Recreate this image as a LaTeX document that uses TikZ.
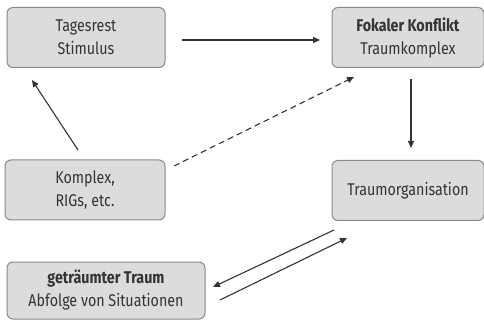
\documentclass[tikz,border=0pt]{standalone}
\usepackage{fontspec}
\setmainfont{Fira Sans}[FakeStretch=0.84]
\usetikzlibrary{arrows.meta}
\definecolor{boxfill}{HTML}{DCDCDC}
\definecolor{boxline}{HTML}{8A8A8A}
\definecolor{ink}{HTML}{333333}
\tikzset{
  stage/.style={draw=boxline, fill=boxfill, line width=1pt, rounded corners=6pt,
    align=center, text=ink, font=\fontsize{17}{23}\selectfont, inner sep=0pt},
  link/.style={draw=ink, line width=1.1pt, -{Triangle[length=7pt,width=6pt]}},
}
\begin{document}
\begin{tikzpicture}[x=1pt,y=-1pt]
\useasboundingbox (0,0) rectangle (484,320);
\node[stage, minimum width=158pt, minimum height=60pt] (tag) at (86,37.5) {Tagesrest\\Stimulus};
\node[stage, minimum width=152pt, minimum height=60pt] (fok) at (408,37.5) {\textbf{Fokaler Konflikt}\\Traumkomplex};
\node[stage, minimum width=160pt, minimum height=60pt] (kom) at (85,190) {Komplex,\\RIGs, etc.};
\node[stage, minimum width=152pt, minimum height=60pt] (org) at (408,190.5) {Traumorganisation};
\node[stage, minimum width=198pt, minimum height=57pt] (geo) at (106,290.5) {\textbf{geträumter Traum}\\Abfolge von Situationen};

\coordinate (a1) at (182,40);   \coordinate (a2) at (320,40);
\coordinate (b1) at (78,150);   \coordinate (b2) at (32,80);
\coordinate (c1) at (174,166);  \coordinate (c2) at (354,77);
\coordinate (d1) at (411,79);   \coordinate (d2) at (411,148);
\coordinate (e1) at (334,230);  \coordinate (e2) at (213,287);
\coordinate (f1) at (220,300);  \coordinate (f2) at (347,238);

\draw[link] (a1) -- (a2);
\draw[link] (b1) -- (b2);
\draw[link, dashed, dash pattern=on 6pt off 4pt] (c1) -- (c2);
\draw[link] (d1) -- (d2);
\draw[link] (e1) -- (e2);
\draw[link] (f1) -- (f2);
\end{tikzpicture}
\end{document}
